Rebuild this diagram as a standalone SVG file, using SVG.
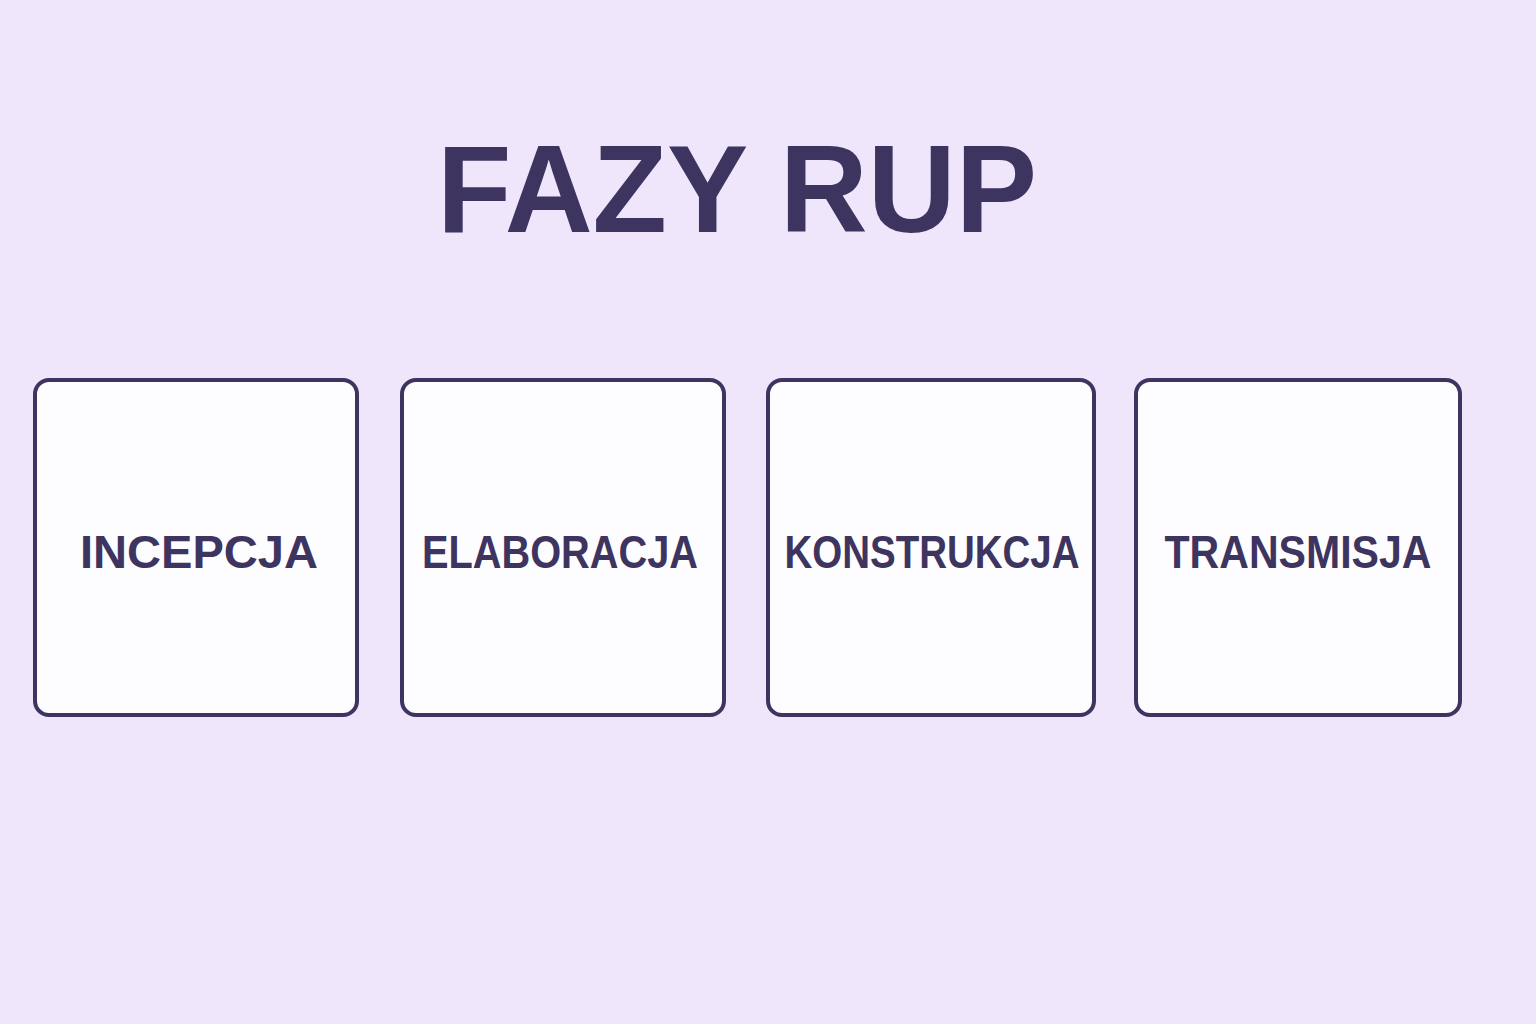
<svg xmlns="http://www.w3.org/2000/svg" width="1536" height="1024" viewBox="0 0 1536 1024">
<style>
.box{fill:#fdfcff;stroke:#3d3460;stroke-width:4}
.lbl{font-family:"Liberation Sans",Arial,sans-serif;font-weight:bold;font-size:46px;fill:#3d3460;text-anchor:middle}
.title{font-family:"Liberation Sans",Arial,sans-serif;font-weight:bold;font-size:124px;fill:#3d3460;text-anchor:middle}
</style>
<rect width="1536" height="1024" fill="#efe6fb"/>
<text class="title" x="737" y="232" textLength="600" lengthAdjust="spacingAndGlyphs">FAZY RUP</text>
<g id="connectors"/>
<g id="incepcja">
<rect class="box" x="35" y="380" width="322" height="335" rx="14"/>
<text class="lbl" x="199" y="568" textLength="238" lengthAdjust="spacingAndGlyphs">INCEPCJA</text>
</g>
<g id="elaboracja">
<rect class="box" x="402" y="380" width="322" height="335" rx="14"/>
<text class="lbl" x="560" y="568" textLength="276" lengthAdjust="spacingAndGlyphs">ELABORACJA</text>
</g>
<g id="konstrukcja">
<rect class="box" x="768" y="380" width="326" height="335" rx="14"/>
<text class="lbl" x="932" y="568" textLength="295" lengthAdjust="spacingAndGlyphs">KONSTRUKCJA</text>
</g>
<g id="transmisja">
<rect class="box" x="1136" y="380" width="324" height="335" rx="14"/>
<text class="lbl" x="1298" y="568" textLength="267" lengthAdjust="spacingAndGlyphs">TRANSMISJA</text>
</g>
</svg>
